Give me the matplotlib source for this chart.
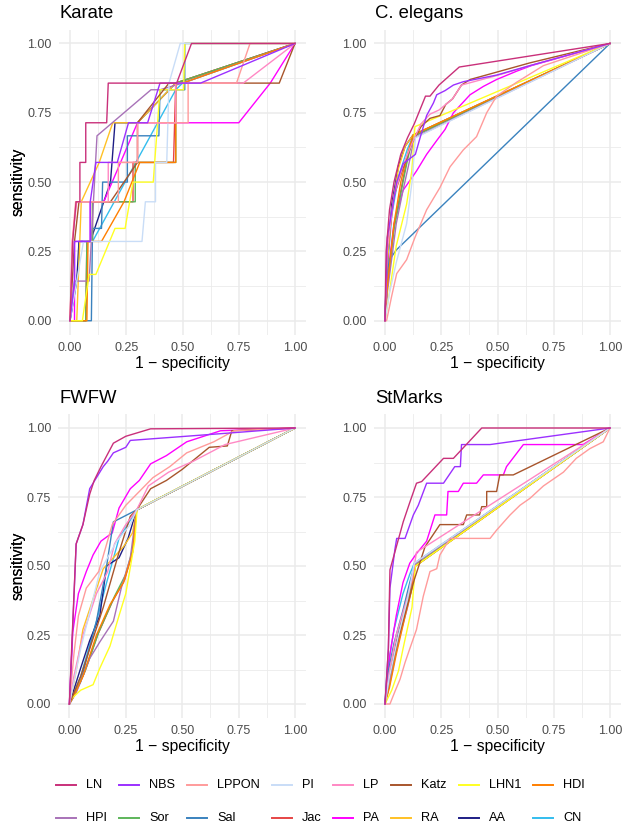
import matplotlib
matplotlib.use("Agg")
import matplotlib.pyplot as plt
from matplotlib.lines import Line2D

plt.rcParams['font.family'] = ['Liberation Sans', 'DejaVu Sans']

methods = ["LN", "NBS", "LPPON", "PI", "LP", "Katz", "LHN1", "HDI",
           "HPI", "Sor", "Sal", "Jac", "PA", "RA", "AA", "CN"]
colors = ["#C9307A", "#9B30FF", "#FF9B9B", "#C9DDF7", "#FF88C4", "#A8552C", "#FFFF22", "#FF7F00",
          "#A872B8", "#5DB55A", "#3A82BE", "#E64545", "#FF00FF", "#FFC125", "#1E1E85", "#33BDEE"]
panels = ["Karate", "C. elegans", "FWFW", "StMarks"]
tick_vals = [0.0, 0.25, 0.5, 0.75, 1.0]
tick_labels = ["0.00", "0.25", "0.50", "0.75", "1.00"]

# ---------------- Karate (fpr, tpr) ----------------
kar_LN = [(0, 0), (0.012, 0.286), (0.027, 0.429), (0.044, 0.429), (0.044, 0.571), (0.07, 0.571), (0.07, 0.714), (0.163, 0.714), (0.17, 0.857), (0.474, 0.857), (0.54, 1), (1, 1)]
kar_NBS = [(0, 0), (0.02, 0.143), (0.02, 0.286), (0.09, 0.286), (0.09, 0.429), (0.115, 0.571), (0.21, 0.571), (0.26, 0.714), (0.345, 0.714), (0.40, 0.857), (0.58, 0.857), (1, 1)]
kar_LPPON = [(0, 0), (0.01, 0.286), (0.025, 0.429), (0.215, 0.429), (0.215, 0.571), (0.30, 0.571), (0.30, 0.714), (0.525, 0.714), (0.525, 0.857), (0.74, 0.857), (0.80, 1), (1, 1)]
kar_PI = [(0, 0), (0.03, 0.143), (0.06, 0.286), (0.32, 0.286), (0.335, 0.429), (0.38, 0.429), (0.38, 0.571), (0.43, 0.571), (0.44, 0.857), (0.49, 1), (1, 1)]
kar_LP = [(0, 0), (0.01, 0.286), (0.03, 0.429), (0.17, 0.429), (0.17, 0.571), (0.30, 0.571), (0.30, 0.714), (0.47, 0.714), (0.47, 0.857), (0.77, 0.857), (1, 1)]
kar_Katz = [(0, 0), (0.02, 0.286), (0.04, 0.429), (0.18, 0.429), (0.30, 0.571), (0.30, 0.714), (0.44, 0.857), (0.93, 0.857), (1, 1)]
kar_LHN1 = [(0, 0), (0.055, 0), (0.085, 0.167), (0.115, 0.167), (0.2, 0.333), (0.245, 0.333), (0.28, 0.5), (0.37, 0.5), (0.40, 0.833), (0.505, 0.833), (0.51, 1), (1, 1)]
kar_HDI = [(0, 0), (0.075, 0), (0.08, 0.286), (0.14, 0.286), (0.24, 0.429), (0.31, 0.571), (0.47, 0.571), (0.47, 0.857), (0.5, 0.857), (1, 1)]
kar_HPI = [(0, 0), (0.02, 0.143), (0.085, 0.143), (0.12, 0.667), (0.36, 0.833), (0.40, 0.833), (0.5, 0.857), (1, 1)]
kar_Sor = [(0, 0), (0.07, 0), (0.075, 0.286), (0.1, 0.286), (0.1, 0.429), (0.29, 0.429), (0.29, 0.571), (0.47, 0.571), (0.47, 0.857), (1, 1)]
kar_Sal = [(0, 0), (0.095, 0), (0.1, 0.333), (0.14, 0.333), (0.145, 0.5), (0.255, 0.5), (0.255, 0.667), (0.395, 0.667), (0.40, 0.833), (0.51, 0.833), (0.51, 1), (1, 1)]
kar_Jac = [(0, 0), (0.07, 0), (0.075, 0.286), (0.1, 0.286), (0.1, 0.429), (0.28, 0.429), (0.28, 0.571), (0.46, 0.571), (0.47, 0.857), (1, 1)]
kar_PA = [(0, 0), (0.02, 0), (0.02, 0.286), (0.09, 0.286), (0.09, 0.429), (0.15, 0.429), (0.30, 0.714), (0.75, 0.714), (0.89, 0.857), (1, 1)]
kar_RA = [(0, 0), (0.03, 0), (0.05, 0.429), (0.13, 0.571), (0.19, 0.714), (0.3, 0.714), (0.47, 0.857), (1, 1)]
kar_AA = [(0, 0), (0.03, 0.143), (0.04, 0.286), (0.09, 0.286), (0.18, 0.5), (0.2, 0.714), (0.3, 0.714), (0.47, 0.857), (1, 1)]
kar_CN = [(0, 0), (0.04, 0.2), (0.04, 0.286), (0.1, 0.286), (0.47, 0.833), (0.5, 0.857), (1, 1)]

# ---------------- C. elegans ----------------
cel_LN = [(0, 0), (0.005, 0.25), (0.02, 0.4), (0.04, 0.5), (0.07, 0.6), (0.1, 0.66), (0.13, 0.71), (0.18, 0.81), (0.2, 0.81), (0.24, 0.85), (0.33, 0.915), (1, 1)]
cel_NBS = [(0, 0), (0.01, 0.3), (0.052, 0.5), (0.081, 0.567), (0.119, 0.59), (0.135, 0.6), (0.156, 0.66), (0.185, 0.74), (0.215, 0.785), (0.23, 0.815), (0.267, 0.83), (0.304, 0.85), (0.348, 0.862), (0.496, 0.886), (0.644, 0.92), (1, 1)]
cel_LPPON = [(0, 0), (0.007, 0), (0.03, 0.09), (0.052, 0.17), (0.096, 0.22), (0.133, 0.3), (0.185, 0.4), (0.244, 0.48), (0.289, 0.555), (0.348, 0.616), (0.407, 0.664), (0.452, 0.75), (0.496, 0.81), (0.585, 0.86), (0.704, 0.92), (1, 1)]
cel_PI = [(0, 0), (0.02, 0.1), (0.05, 0.21), (0.096, 0.35), (0.12, 0.5), (0.135, 0.66), (1, 1)]
cel_LP = [(0, 0), (0.01, 0.25), (0.04, 0.45), (0.08, 0.56), (0.12, 0.64), (0.16, 0.71), (0.2, 0.745), (0.24, 0.76), (0.3, 0.8), (0.34, 0.85), (0.5, 0.885), (0.644, 0.92), (1, 1)]
cel_Katz = [(0, 0), (0.01, 0.25), (0.04, 0.45), (0.08, 0.55), (0.12, 0.64), (0.16, 0.7), (0.2, 0.73), (0.244, 0.74), (0.27, 0.78), (0.3, 0.8), (0.34, 0.85), (0.378, 0.87), (0.467, 0.89), (0.644, 0.93), (1, 1)]
cel_LHN1 = [(0, 0), (0.01, 0.05), (0.05, 0.27), (0.096, 0.42), (0.119, 0.54), (0.133, 0.7), (1, 1)]
cel_HDI = [(0, 0), (0.01, 0.12), (0.04, 0.35), (0.07, 0.5), (0.1, 0.6), (0.125, 0.67), (1, 1)]
cel_HPI = [(0, 0), (0.01, 0.1), (0.05, 0.35), (0.08, 0.47), (0.11, 0.58), (0.13, 0.66), (1, 1)]
cel_Sor = [(0, 0), (0.01, 0.12), (0.04, 0.33), (0.08, 0.5), (0.1, 0.58), (0.125, 0.665), (1, 1)]
cel_Sal = [(0, 0), (0.005, 0.15), (0.02, 0.22), (0.05, 0.255), (1, 1)]
cel_Jac = [(0, 0), (0.01, 0.12), (0.04, 0.34), (0.08, 0.51), (0.1, 0.59), (0.125, 0.665), (1, 1)]
cel_PA = [(0, 0), (0.01, 0.15), (0.04, 0.35), (0.08, 0.47), (0.14, 0.54), (0.185, 0.6), (0.23, 0.65), (0.267, 0.69), (0.304, 0.75), (0.378, 0.815), (0.437, 0.845), (0.496, 0.87), (0.585, 0.9), (0.65, 0.92), (1, 1)]
cel_RA = [(0, 0), (0.01, 0.2), (0.03, 0.4), (0.06, 0.55), (0.09, 0.63), (0.125, 0.67), (1, 1)]
cel_AA = [(0, 0), (0.01, 0.2), (0.03, 0.42), (0.06, 0.56), (0.09, 0.63), (0.125, 0.67), (1, 1)]
cel_CN = [(0, 0), (0.01, 0.18), (0.03, 0.38), (0.06, 0.52), (0.1, 0.62), (0.125, 0.665), (1, 1)]

# ---------------- FWFW ----------------
fw_LN = [(0, 0), (0.01, 0.2), (0.03, 0.58), (0.06, 0.65), (0.09, 0.76), (0.11, 0.81), (0.14, 0.86), (0.195, 0.945), (0.25, 0.97), (0.36, 0.997), (1, 1)]
fw_NBS = [(0, 0), (0.01, 0.18), (0.03, 0.58), (0.06, 0.65), (0.09, 0.78), (0.15, 0.86), (0.17, 0.88), (0.195, 0.91), (0.25, 0.93), (0.27, 0.955), (0.68, 0.98), (1, 1)]
fw_LPPON = [(0, 0), (0.02, 0.18), (0.04, 0.32), (0.075, 0.42), (0.13, 0.48), (0.19, 0.65), (0.25, 0.72), (0.31, 0.77), (0.37, 0.82), (0.445, 0.86), (0.52, 0.91), (0.64, 0.95), (0.73, 0.99), (1, 1)]
fw_PI = [(0, 0), (0.05, 0.2), (0.135, 0.48), (0.21, 0.59), (0.27, 0.65), (0.298, 0.703), (1, 1)]
fw_LP = [(0, 0), (0.02, 0.1), (0.06, 0.25), (0.12, 0.4), (0.17, 0.48), (0.2, 0.58), (0.25, 0.65), (0.298, 0.703), (0.35, 0.79), (0.44, 0.84), (0.55, 0.88), (0.69, 0.94), (1, 1)]
fw_Katz = [(0, 0), (0.05, 0.1), (0.15, 0.35), (0.22, 0.55), (0.27, 0.68), (0.298, 0.703), (0.36, 0.78), (0.43, 0.81), (0.5, 0.85), (0.56, 0.89), (0.62, 0.93), (0.7, 0.935), (0.72, 0.99), (1, 1)]
fw_LHN1 = [(0, 0), (0.01, 0.02), (0.05, 0.05), (0.105, 0.07), (0.135, 0.13), (0.18, 0.21), (0.22, 0.32), (0.25, 0.4), (0.29, 0.59), (0.3, 0.705), (1, 1)]
fw_HDI = [(0, 0), (0.02, 0.03), (0.06, 0.1), (0.12, 0.25), (0.18, 0.36), (0.24, 0.44), (0.28, 0.55), (0.298, 0.703), (1, 1)]
fw_HPI = [(0, 0), (0.03, 0.04), (0.09, 0.165), (0.135, 0.225), (0.195, 0.3), (0.23, 0.42), (0.27, 0.53), (0.298, 0.703), (1, 1)]
fw_Sor = [(0, 0), (0.02, 0.03), (0.07, 0.12), (0.13, 0.26), (0.2, 0.39), (0.25, 0.47), (0.28, 0.56), (0.298, 0.703), (1, 1)]
fw_Sal = [(0, 0), (0.05, 0.08), (0.12, 0.3), (0.165, 0.5), (0.195, 0.66), (0.298, 0.703), (1, 1)]
fw_Jac = [(0, 0), (0.02, 0.03), (0.065, 0.11), (0.125, 0.25), (0.19, 0.37), (0.245, 0.45), (0.28, 0.55), (0.298, 0.703), (1, 1)]
fw_PA = [(0, 0), (0.015, 0.26), (0.04, 0.4), (0.075, 0.48), (0.105, 0.54), (0.14, 0.59), (0.19, 0.62), (0.22, 0.71), (0.27, 0.78), (0.31, 0.81), (0.36, 0.87), (0.43, 0.9), (0.52, 0.95), (0.67, 0.99), (1, 1)]
fw_RA = [(0, 0), (0.03, 0.12), (0.06, 0.27), (0.15, 0.49), (0.24, 0.57), (0.28, 0.62), (0.298, 0.703), (1, 1)]
fw_AA = [(0, 0), (0.05, 0.13), (0.09, 0.23), (0.135, 0.32), (0.165, 0.5), (0.22, 0.53), (0.26, 0.6), (0.298, 0.703), (1, 1)]
fw_CN = [(0, 0), (0.05, 0.1), (0.12, 0.3), (0.165, 0.44), (0.22, 0.6), (0.298, 0.703), (1, 1)]

# ---------------- StMarks ----------------
st_LN = [(0, 0), (0.015, 0.2), (0.022, 0.486), (0.037, 0.53), (0.081, 0.66), (0.11, 0.73), (0.14, 0.8), (0.163, 0.806), (0.26, 0.89), (0.304, 0.89), (0.43, 1), (1, 1)]
st_NBS = [(0, 0), (0.015, 0.2), (0.022, 0.42), (0.044, 0.56), (0.052, 0.6), (0.089, 0.6), (0.126, 0.685), (0.148, 0.72), (0.185, 0.8), (0.26, 0.8), (0.31, 0.86), (0.335, 0.86), (0.34, 0.94), (0.467, 0.94), (1, 1)]
st_LPPON = [(0, 0), (0.022, 0), (0.044, 0.045), (0.067, 0.09), (0.089, 0.15), (0.11, 0.2), (0.14, 0.27), (0.17, 0.39), (0.2, 0.48), (0.23, 0.49), (0.244, 0.54), (0.289, 0.6), (0.467, 0.6), (0.496, 0.63), (0.556, 0.685), (0.6, 0.72), (0.644, 0.745), (0.704, 0.79), (0.793, 0.84), (0.85, 0.89), (0.91, 0.925), (0.97, 0.95), (1, 1)]
st_PI = [(0, 0), (0.02, 0.1), (0.06, 0.25), (0.1, 0.38), (0.13, 0.51), (1, 1)]
st_LP = [(0, 0), (0.02, 0.12), (0.05, 0.25), (0.09, 0.36), (0.12, 0.45), (0.14, 0.55), (1, 1)]
st_Katz = [(0, 0), (0.02, 0.1), (0.06, 0.24), (0.1, 0.36), (0.13, 0.45), (0.178, 0.57), (0.244, 0.65), (0.348, 0.65), (0.363, 0.685), (0.42, 0.685), (0.43, 0.715), (0.452, 0.715), (0.452, 0.77), (0.496, 0.77), (0.51, 0.83), (0.57, 0.83), (1, 1)]
st_LHN1 = [(0, 0), (0.03, 0.05), (0.06, 0.12), (0.08, 0.2), (0.12, 0.35), (0.135, 0.5), (1, 1)]
st_HDI = [(0, 0), (0.02, 0.06), (0.05, 0.18), (0.09, 0.32), (0.12, 0.42), (0.135, 0.5), (1, 1)]
st_HPI = [(0, 0), (0.02, 0.08), (0.05, 0.2), (0.1, 0.35), (0.12, 0.42), (0.135, 0.51), (1, 1)]
st_Sor = [(0, 0), (0.02, 0.07), (0.05, 0.19), (0.09, 0.33), (0.12, 0.43), (0.135, 0.5), (1, 1)]
st_Sal = [(0, 0), (0.01, 0.1), (0.04, 0.22), (0.08, 0.34), (0.11, 0.44), (0.13, 0.5), (1, 1)]
st_Jac = [(0, 0), (0.02, 0.08), (0.05, 0.2), (0.09, 0.34), (0.12, 0.44), (0.135, 0.5), (1, 1)]
st_PA = [(0, 0), (0.022, 0.18), (0.05, 0.32), (0.08, 0.44), (0.11, 0.51), (0.14, 0.545), (0.185, 0.59), (0.222, 0.685), (0.274, 0.685), (0.28, 0.77), (0.326, 0.77), (0.348, 0.8), (0.407, 0.8), (0.437, 0.83), (0.526, 0.83), (0.54, 0.86), (0.615, 0.94), (0.88, 0.94), (1, 1)]
st_RA = [(0, 0), (0.02, 0.09), (0.05, 0.21), (0.09, 0.35), (0.12, 0.45), (0.135, 0.51), (1, 1)]
st_AA = [(0, 0), (0.02, 0.1), (0.05, 0.22), (0.09, 0.36), (0.12, 0.46), (0.135, 0.51), (1, 1)]
st_CN = [(0, 0), (0.01, 0.12), (0.04, 0.27), (0.08, 0.4), (0.11, 0.47), (0.13, 0.51), (1, 1)]

prefixes = {"Karate": "kar_", "C. elegans": "cel_", "FWFW": "fw_", "StMarks": "st_"}
g = globals()
data = {p: {m: g[prefixes[p] + m] for m in methods} for p in panels}

W, H = 626, 831
fig = plt.figure(figsize=(W / 100, H / 100), dpi=100)

# axes rectangles in pixels: (left, top, right, bottom)
rects = {
    "Karate": (58.75, 29.6, 306.25, 334.6),
    "C. elegans": (373.75, 29.6, 621.25, 334.6),
    "FWFW": (58.1, 414.2, 306.3, 717.8),
    "StMarks": (373.75, 414.2, 621.25, 717.8),
}

for p in panels:
    l, t, r, b = rects[p]
    ax = fig.add_axes([l / W, 1 - b / H, (r - l) / W, (b - t) / H])
    ax.set_xlim(-0.05, 1.05)
    ax.set_ylim(-0.05, 1.05)
    for s in ax.spines.values():
        s.set_visible(False)
    ax.set_xticks(tick_vals)
    ax.set_xticklabels(tick_labels)
    ax.set_yticks(tick_vals)
    ax.set_yticklabels(tick_labels)
    ax.set_xticks([0.125, 0.375, 0.625, 0.875], minor=True)
    ax.set_yticks([0.125, 0.375, 0.625, 0.875], minor=True)
    ax.grid(True, which='major', color='#EBEBEB', lw=1.1)
    ax.grid(True, which='minor', color='#EBEBEB', lw=0.6)
    ax.set_axisbelow(True)
    ax.tick_params(which='both', length=0, labelsize=9.0, labelcolor='#4D4D4D', pad=5)
    ax.set_xlabel("1 \u2212 specificity", fontsize=11.3)
    ax.set_ylabel("sensitivity", fontsize=11.3)
    hpx = b - t
    wpx = r - l
    ax.xaxis.set_label_coords(0.5, -28.7 / hpx)
    ax.xaxis.label.set_va('center')
    ax.yaxis.set_label_coords((18 - l) / wpx, 0.5)
    ax.yaxis.label.set_va('center')
    fig.text((l + 1.0) / W, 1 - (t - 11.6) / H, p, fontsize=13.3, ha='left', va='baseline')
    for m, c in reversed(list(zip(methods, colors))):
        pts = data[p][m]
        xs = [q[0] for q in pts]
        ys = [q[1] for q in pts]
        ax.plot(xs, ys, color=c, lw=1.0, solid_joinstyle='round')

# legend drawn manually: two rows of eight keys
col_x = [56.0, 119.0, 187.0, 272.0, 333.0, 391.0, 459.0, 533.0]
row_y = [784.5, 818.0]
for i, (m, c) in enumerate(zip(methods, colors)):
    rr, cc = divmod(i, 8)
    x0 = col_x[cc]
    y0 = 1 - row_y[rr] / H
    fig.add_artist(Line2D([x0 / W, (x0 + 20) / W], [y0, y0], color=c, lw=1.4,
                          transform=fig.transFigure))
    fig.text((x0 + 30) / W, y0, m, fontsize=9.2, ha='left', va='center')

fig.savefig("out.png", dpi=100, facecolor='white')
